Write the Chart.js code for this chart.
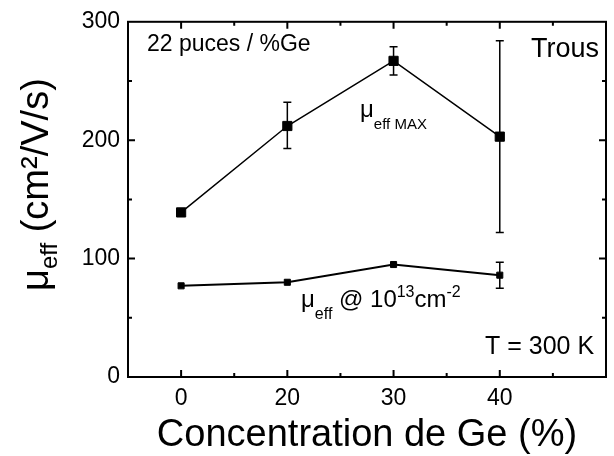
<!DOCTYPE html>
<html>
<head>
<meta charset="utf-8">
<script src="https://cdn.jsdelivr.net/npm/chart.js@4"></script>
<style>
  html, body { margin: 0; padding: 0; background: #fff; }
  #wrap { width: 614px; height: 456px; }
</style>
</head>
<body>
<div id="wrap"><canvas id="mobilityChart" width="614" height="456"></canvas></div>
<script>
// Ge concentration (%) - plotted at equal spacing like the original
const categories = ["0", "20", "30", "40"];
const muMax = [139, 212, 267, 203];
const muMaxLow = [139, 193, 255, 122];
const muMaxHigh = [139, 232, 279, 284];
const mu13 = [77, 80, 95, 86];
const mu13Low = [77, 80, 95, 75];
const mu13High = [77, 80, 95, 97];
const yTicks = [0, 100, 200, 300];

const FONT = "'Liberation Sans', Arial, Helvetica, sans-serif";

function pts(vals) {
  return vals.map((v, i) => ({ x: i, y: v }));
}

// draws a run of text pieces (normal / sub / sup) from left to right
function richText(ctx, x, y, parts) {
  let cx = x;
  parts.forEach((p) => {
    ctx.font = p.size + "px " + FONT;
    ctx.fillText(p.t, cx, y + (p.dy || 0));
    cx += ctx.measureText(p.t).width;
  });
}

const framePlugin = {
  id: "frame",
  beforeDatasetsDraw(chart) {
    const ctx = chart.ctx;
    const xs = chart.scales.x, ys = chart.scales.y;
    ctx.save();
    ctx.strokeStyle = "#000";
    ctx.lineWidth = 1.5;
    const bars = [
      [muMaxLow, muMaxHigh, 8],
      [mu13Low, mu13High, 8],
    ];
    bars.forEach(([lo, hi, cap]) => {
      lo.forEach((l, i) => {
        if (hi[i] - l <= 0) return;
        const px = xs.getPixelForValue(i);
        const y1 = ys.getPixelForValue(l), y2 = ys.getPixelForValue(hi[i]);
        ctx.beginPath();
        ctx.moveTo(px, y1); ctx.lineTo(px, y2);
        ctx.moveTo(px - cap / 2, y1); ctx.lineTo(px + cap / 2, y1);
        ctx.moveTo(px - cap / 2, y2); ctx.lineTo(px + cap / 2, y2);
        ctx.stroke();
      });
    });
    ctx.restore();
  },
  afterDraw(chart) {
    const ctx = chart.ctx;
    const a = chart.chartArea;
    const xs = chart.scales.x, ys = chart.scales.y;
    ctx.save();
    ctx.strokeStyle = "#000";
    ctx.lineWidth = 2;
    ctx.strokeRect(a.left, a.top, a.right - a.left, a.bottom - a.top);

    // inward ticks on all four sides
    ctx.beginPath();
    xs.ticks.forEach((t) => {
      if (t.value <= xs.min || t.value >= xs.max) return;
      const px = xs.getPixelForValue(t.value);
      const len = Number.isInteger(t.value) ? 7 : 4;
      ctx.moveTo(px, a.bottom); ctx.lineTo(px, a.bottom - len);
      ctx.moveTo(px, a.top); ctx.lineTo(px, a.top + len);
    });
    ys.ticks.forEach((t) => {
      if (t.value <= ys.min || t.value >= ys.max) return;
      const py = ys.getPixelForValue(t.value);
      const len = t.value % 100 === 0 ? 7 : 4;
      ctx.moveTo(a.left, py); ctx.lineTo(a.left + len, py);
      ctx.moveTo(a.right, py); ctx.lineTo(a.right - len, py);
    });
    ctx.stroke();

    ctx.fillStyle = "#000";
    ctx.textBaseline = "alphabetic";
    ctx.textAlign = "left";

    ctx.font = "23px " + FONT;
    ctx.fillText("22 puces / %Ge", 147, 51);
    ctx.font = "27px " + FONT;
    ctx.fillText("Trous", 531, 57);
    ctx.font = "25px " + FONT;
    ctx.fillText("T = 300 K", 485, 354);

    richText(ctx, 360, 117, [
      { t: "\u03bc", size: 24 },
      { t: "eff MAX", size: 15, dy: 12 },
    ]);
    richText(ctx, 301, 307, [
      { t: "\u03bc", size: 24 },
      { t: "eff", size: 16, dy: 12 },
      { t: " @ 10", size: 24 },
      { t: "13", size: 16, dy: -10 },
      { t: "cm", size: 24 },
      { t: "-2", size: 16, dy: -10 },
    ]);

    // x axis title
    ctx.font = "38px " + FONT;
    ctx.textAlign = "center";
    ctx.fillText("Concentration de Ge (%)", (a.left + a.right) / 2, 446);

    // y axis title, rotated
    ctx.textAlign = "left";
    ctx.translate(48, 291);
    ctx.rotate(-Math.PI / 2);
    richText(ctx, 0, 0, [
      { t: "\u03bc", size: 38 },
      { t: "eff", size: 24, dy: 9 },
      { t: " (cm\u00b2/V/s)", size: 38 },
    ]);
    ctx.restore();
  },
};

new Chart(document.getElementById("mobilityChart").getContext("2d"), {
  type: "line",
  data: {
    datasets: [
      {
        label: "mu eff MAX",
        data: pts(muMax),
        borderColor: "#000",
        backgroundColor: "#000",
        borderWidth: 1.5,
        pointStyle: "rect",
        pointRadius: 6.5,
        pointHoverRadius: 6.5,
        pointBorderWidth: 1,
      },
      {
        label: "mu eff @ 1e13",
        data: pts(mu13),
        borderColor: "#000",
        backgroundColor: "#000",
        borderWidth: 2,
        pointStyle: "rect",
        pointRadius: 4.3,
        pointHoverRadius: 4.3,
        pointBorderWidth: 1,
      },
    ],
  },
  options: {
    responsive: false,
    animation: false,
    layout: { padding: { top: 17, right: 7, left: 0, bottom: 0 } },
    plugins: {
      legend: { display: false },
      tooltip: { enabled: false },
    },
    scales: {
      x: {
        type: "linear",
        min: -0.5,
        max: 4,
        grid: { display: false, drawTicks: false },
        border: { display: false },
        afterFit: (s) => { s.height = 79; },
        ticks: {
          stepSize: 0.5,
          autoSkip: false,
          maxRotation: 0,
          padding: 8,
          color: "#000",
          font: { family: FONT, size: 23 },
          callback: (v) => (Number.isInteger(v) && categories[v] !== undefined ? categories[v] : ""),
        },
      },
      y: {
        min: 0,
        max: 300,
        grid: { display: false, drawTicks: false },
        border: { display: false },
        afterFit: (s) => { s.width = 128; },
        ticks: {
          stepSize: 50,
          padding: 8,
          color: "#000",
          font: { family: FONT, size: 23 },
          callback: (v) => (yTicks.includes(v) ? String(v) : ""),
        },
      },
    },
  },
  plugins: [framePlugin],
});
</script>
</body>
</html>
